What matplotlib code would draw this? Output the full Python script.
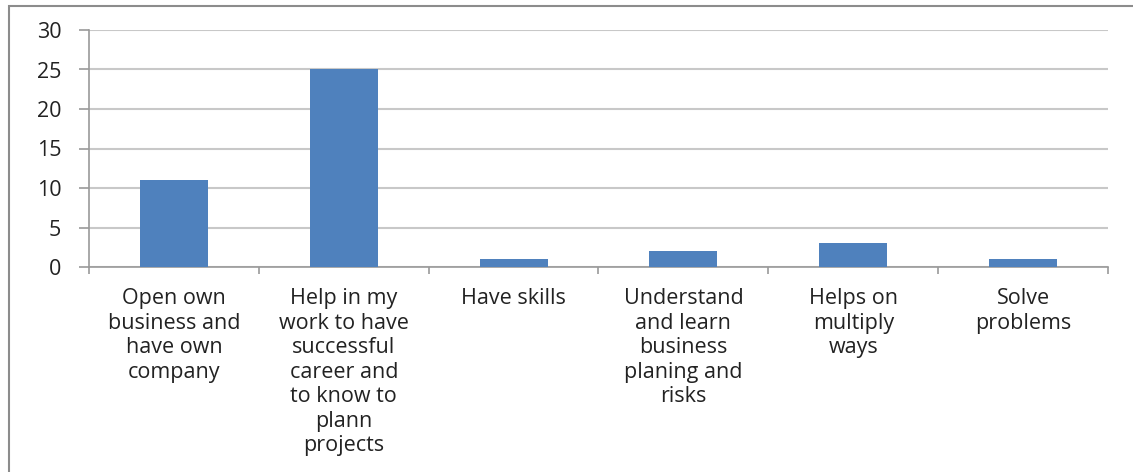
import matplotlib
matplotlib.use("Agg")
import matplotlib.pyplot as plt
import numpy as np
from matplotlib.patches import Rectangle

matplotlib.rcParams["font.family"] = ["Open Sans", "DejaVu Sans"]

categories = [
    "Open own\nbusiness and\nhave own\ncompany",
    "Help in my\nwork to have\nsuccessful\ncareer and\nto know to\nplann\nprojects",
    "Have skills",
    "Understand\nand learn\nbusiness\nplaning and\nrisks",
    "Helps on\nmultiply\nways",
    "Solve\nproblems",
]
counts = [11, 25, 1, 2, 3, 1]
y_ticks = [0, 5, 10, 15, 20, 25, 30]

W, H = 1133, 472
fig = plt.figure(figsize=(W / 100, H / 100), dpi=100)
ax = fig.add_axes([89 / W, 1 - 267 / H, (1108 - 89) / W, (267 - 30) / H])

x = np.arange(len(counts))
ax.bar(x, counts, width=0.4, color="#4F81BD", zorder=3)

ax.set_xlim(-0.5, len(counts) - 0.5)
ax.set_ylim(0, 30)
ax.set_yticks(y_ticks)
ax.set_yticklabels([str(v) for v in y_ticks], fontsize=15.5, color="#222")
ax.yaxis.grid(True, color="#C8C8C8", lw=1.5, zorder=0)

# category labels centred under bars, ticks at category boundaries
ax.set_xticks(np.arange(len(counts) + 1) - 0.5)
ax.set_xticklabels([])
ax.tick_params(axis="x", length=5, color="#9A9A9A", width=1.2)
ax.tick_params(axis="y", length=7, color="#9A9A9A", width=1.2, pad=13)
for i, lab in enumerate(categories):
    ax.text(i, -2.7, lab, ha="center", va="top", fontsize=15.5, color="#222",
            linespacing=1.22)

for s in ["top", "right"]:
    ax.spines[s].set_visible(False)
for s in ["left", "bottom"]:
    ax.spines[s].set_color("#9A9A9A")
    ax.spines[s].set_linewidth(1.2)

# chart area frame (cropped on right/bottom in the original)
fig.patches.append(Rectangle((9 / W, -0.05), 1.2, 1 - 6 / H + 0.05,
                             transform=fig.transFigure, fill=False,
                             edgecolor="#8C8C8C", lw=1.5))

fig.savefig("out.png", dpi=100, facecolor="white")
